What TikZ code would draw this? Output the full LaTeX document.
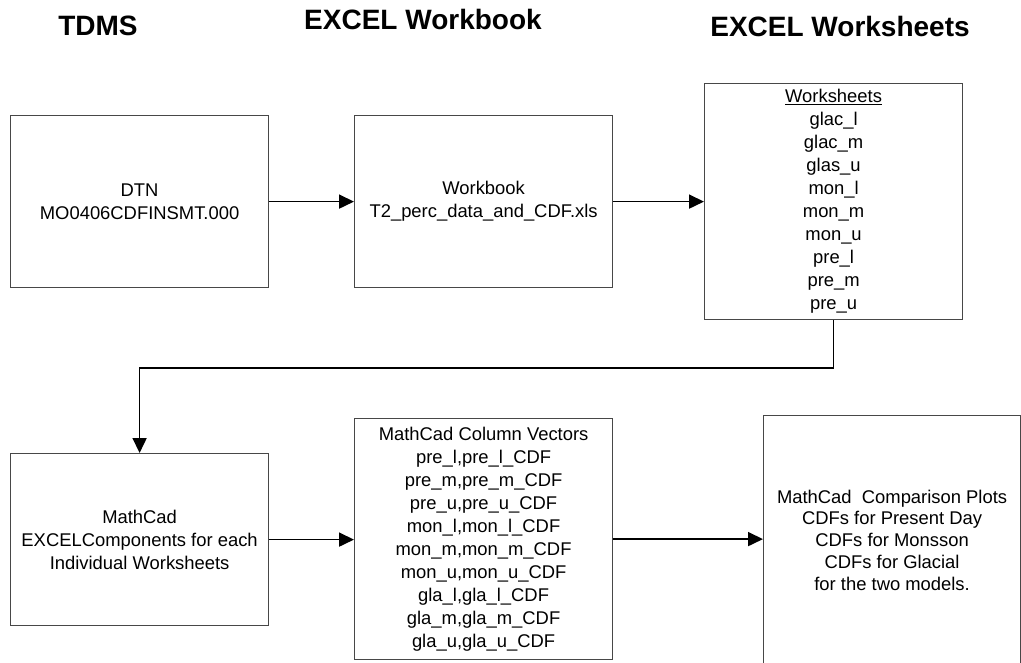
\documentclass[tikz,border=0pt]{standalone}
\usepackage{fontspec}
\setmainfont{Liberation Sans}
\usetikzlibrary{arrows.meta}
\begin{document}
\begin{tikzpicture}[x=1pt,y=-1pt,
  box/.style={draw=black!72, line width=1.2pt, rectangle, inner sep=0pt,
    anchor=north west, align=center, font=\fontsize{18.4}{23}\selectfont},
  title/.style={font=\bfseries\fontsize{28}{32}\selectfont, anchor=base},
  conn/.style={line width=1.7pt, -{Triangle[length=15pt,width=14pt]}}]
\useasboundingbox (0,0) rectangle (1021,662);

\node[title] (t1) at (98,35) {TDMS};
\node[title] (t2) at (423,29) {EXCEL Workbook};
\node[title] (t3) at (840,36) {EXCEL Worksheets};

\node[box, minimum width=258pt, minimum height=172pt] (dtn) at (10,115)
  {DTN\\MO0406CDFINSMT.000};
\node[box, minimum width=258pt, minimum height=172pt] (wb) at (354,115)
  {Workbook\\T2\_perc\_data\_and\_CDF.xls};
\node[box, minimum width=258pt, minimum height=236pt] (ws) at (704,83)
  {\underline{Worksheets}\\glac\_l\\glac\_m\\glas\_u\\mon\_l\\mon\_m\\mon\_u\\pre\_l\\pre\_m\\pre\_u};
\node[box, minimum width=258pt, minimum height=172pt] (mc) at (10,453)
  {MathCad\\EXCELComponents for each\\Individual Worksheets};
\node[box, minimum width=258pt, minimum height=241pt] (cv) at (354,418)
  {MathCad Column Vectors\\pre\_l,pre\_l\_CDF\\pre\_m,pre\_m\_CDF\\pre\_u,pre\_u\_CDF\\mon\_l,mon\_l\_CDF\\mon\_m,mon\_m\_CDF\\mon\_u,mon\_u\_CDF\\gla\_l,gla\_l\_CDF\\gla\_m,gla\_m\_CDF\\gla\_u,gla\_u\_CDF};
\node[box, minimum width=257pt, minimum height=249pt, font=\fontsize{18.4}{21.7}\selectfont] (res) at (763,415)
  {MathCad\ \ Comparison Plots\\CDFs for Present Day\\CDFs for Monsson\\CDFs for Glacial\\for the two models.};

\draw[conn] (dtn.east) -- (wb.west);
\draw[conn] (wb.east) -- (wb.east -| ws.west);
\draw[conn] (ws.south) -- ++(0,48) -| (mc.north);
\draw[conn] (mc.east) -- (mc.east -| cv.west);
\draw[conn] (cv.east) -- (cv.east -| res.west);
\end{tikzpicture}
\end{document}
